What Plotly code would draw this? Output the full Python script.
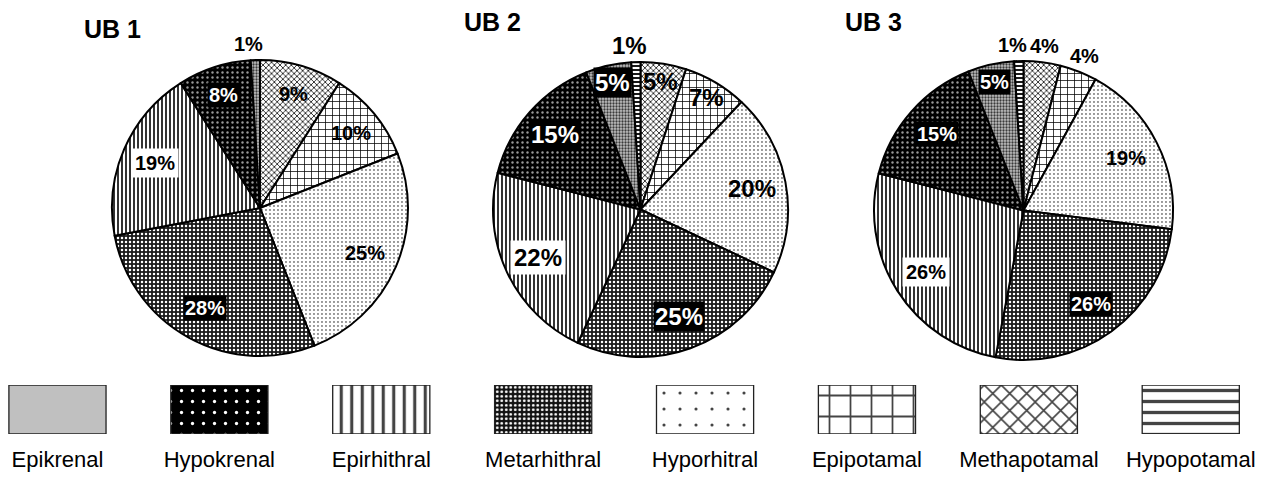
import math
import plotly.graph_objects as go

# ---------------- data ----------------
zones = ["Epikrenal", "Hypokrenal", "Epirhithral", "Metarhithral",
         "Hyporhitral", "Epipotamal", "Methapotamal", "Hypopotamal"]
# slice order, clockwise from 12 o'clock
slice_order = ["Methapotamal", "Epipotamal", "Hyporhitral", "Metarhithral",
               "Epirhithral", "Hypokrenal", "Epikrenal", "Hypopotamal"]
ub1 = [9, 10, 25, 28, 19, 8, 1, 0]
ub2 = [5, 7, 20, 25, 22, 15, 5, 1]
ub3 = [4, 4, 19, 26, 26, 15, 5, 1]
titles = ["UB 1", "UB 2", "UB 3"]

# ---------------- styles ----------------
FONT = "Arial, Liberation Sans, sans-serif"
W, H = 1273, 477
# pie geometry (pixel centre x, centre y, radius)
pie_geom = [(260, 208, 148), (640.5, 209.5, 147.5), (1023.5, 210.5, 149.5)]
label_font = [20, 24, 20]
# label box style per slice: p = plain, b = black box, w = white box
label_style = [
    ["p", "p", "p", "b", "w", "b", "p", "p"],
    ["p", "p", "p", "b", "w", "b", "b", "p"],
    ["p", "p", "p", "b", "w", "b", "b", "p"],
]
title_pos = [(112, 29), (492, 22), (873, 22)]

# pie patterns: (shape, fg, bg, size, solidity)
pie_pat = {
    "Epikrenal":    (".", "#3a3a3a", "#c0c0c0", 3, 0.45),
    "Hypokrenal":   (".", "#9a9a9a", "#000000", 5, 0.18),
    "Epirhithral":  ("|", "#000000", "#ffffff", 4, 0.4),
    "Metarhithral": (".", "#ffffff", "#1a1a1a", 4, 0.3),
    "Hyporhitral":  (".", "#000000", "#ffffff", 4, 0.1),
    "Epipotamal":   ("+", "#000000", "#ffffff", 7, 0.2),
    "Methapotamal": ("x", "#000000", "#ffffff", 4, 0.35),
    "Hypopotamal":  ("-", "#000000", "#ffffff", 4, 0.45),
}
# legend swatch patterns
leg_pat = {
    "Epikrenal":    ("", "#c0c0c0", "#c0c0c0", 8, 0.1),
    "Hypokrenal":   (".", "#ffffff", "#000000", 11, 0.07),
    "Epirhithral":  ("|", "#000000", "#ffffff", 10.5, 0.3),
    "Metarhithral": (".", "#ffffff", "#111111", 4.5, 0.3),
    "Hyporhitral":  (".", "#000000", "#ffffff", 16, 0.03),
    "Epipotamal":   ("+", "#000000", "#ffffff", 21, 0.16),
    "Methapotamal": ("x", "#000000", "#ffffff", 12, 0.25),
    "Hypopotamal":  ("-", "#000000", "#ffffff", 11, 0.3),
}

fig = go.Figure()
annotations = []

for i, vals in enumerate([ub1, ub2, ub3]):
    cx, cy, R = pie_geom[i]
    pats = [pie_pat[z] for z in slice_order]
    fig.add_trace(go.Pie(
        labels=slice_order, values=vals, sort=False,
        direction="clockwise", rotation=0,
        textinfo="none", hoverinfo="skip", showlegend=False,
        domain=dict(x=[(cx - R) / W, (cx + R) / W],
                    y=[1 - (cy + R) / H, 1 - (cy - R) / H]),
        marker=dict(
            colors=[p[2] for p in pats],
            line=dict(color="black", width=2),
            pattern=dict(shape=[p[0] for p in pats],
                         fgcolor=[p[1] for p in pats],
                         bgcolor=[p[2] for p in pats],
                         size=[p[3] for p in pats],
                         solidity=[p[4] for p in pats],
                         fgopacity=1),
        ),
    ))
    total = sum(vals)
    cum = 0
    for j, v in enumerate(vals):
        if v == 0:
            continue
        mid = (cum + v / 2) / total * 2 * math.pi
        cum += v
        outside = v < 5
        if outside:
            rf = 1.11
        elif v <= 7:
            rf = 0.88
        elif v <= 10:
            rf = 0.8
        else:
            rf = 0.77
        px = cx + rf * R * math.sin(mid)
        py = cy - rf * R * math.cos(mid)
        if outside and math.sin(mid) < 0:
            px -= 6
        st = label_style[i][j]
        annotations.append(dict(
            x=px / W, y=1 - py / H, xref="paper", yref="paper",
            text=f"{v}%", showarrow=False,
            font=dict(family=FONT, size=label_font[i],
                      color="white" if st == "b" else "black",
                      weight="bold"),
            bgcolor="black" if st == "b" else ("white" if st == "w" else "rgba(0,0,0,0)"),
            borderpad=1 if st == "b" else 3,
            xanchor="center", yanchor="middle",
        ))

for t, (tx, ty) in zip(titles, title_pos):
    annotations.append(dict(
        x=tx / W, y=1 - ty / H, xref="paper", yref="paper", text=t,
        showarrow=False, xanchor="center", yanchor="middle",
        font=dict(family=FONT, size=25, color="black", weight="bold"),
    ))

# legend swatches as bars
lp = [leg_pat[z] for z in zones]
fig.add_trace(go.Bar(
    x=zones, y=[1] * len(zones), width=0.6, showlegend=False,
    hoverinfo="skip",
    marker=dict(
        color=[p[2] for p in lp],
        line=dict(color="#222222", width=1.3),
        pattern=dict(shape=[p[0] for p in lp],
                     fgcolor=[p[1] for p in lp],
                     bgcolor=[p[2] for p in lp],
                     size=[p[3] for p in lp],
                     solidity=[p[4] for p in lp],
                     fgopacity=1),
    ),
))

fig.update_layout(
    width=W, height=H,
    margin=dict(l=0, r=0, t=0, b=0),
    paper_bgcolor="white", plot_bgcolor="white",
    annotations=annotations,
    xaxis=dict(domain=[0, 1], range=[-0.355, 7.508], showgrid=False,
               zeroline=False, showline=False, ticks="",
               tickfont=dict(family=FONT, size=22, color="black"),
               ticklabelstandoff=10, fixedrange=True),
    yaxis=dict(domain=[1 - 434 / H, 1 - 385 / H], range=[0, 1],
               showgrid=False, zeroline=False, showline=False,
               showticklabels=False, fixedrange=True),
)

fig.write_html("out.html", config={"displayModeBar": False},
               post_script="document.body.style.margin='0';document.body.style.overflow='hidden';")
